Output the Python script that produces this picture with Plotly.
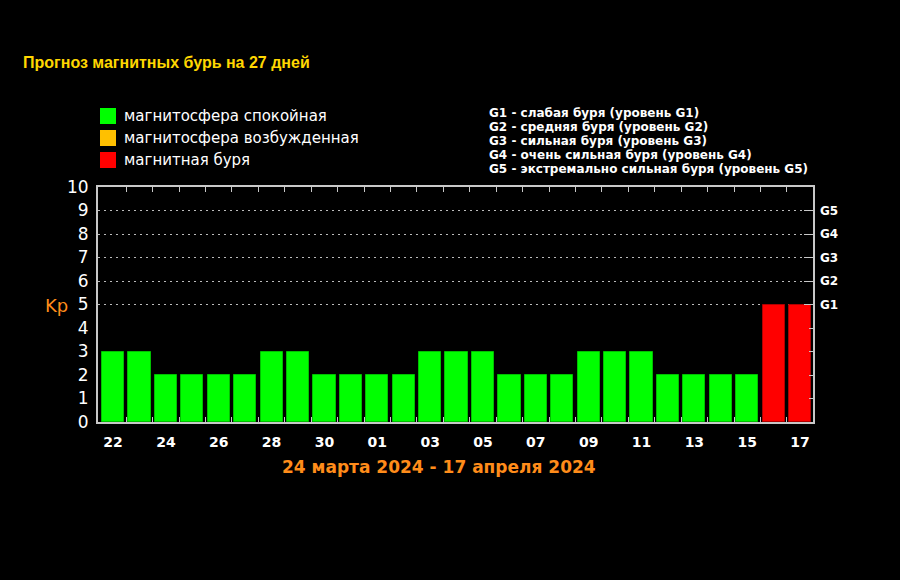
import plotly.graph_objects as go

# ---------------- data ----------------
day_labels = ["22", "23", "24", "25", "26", "27", "28", "29", "30", "31",
              "01", "02", "03", "04", "05", "06", "07", "08", "09", "10",
              "11", "12", "13", "14", "15", "16", "17"]
kp_values = [3, 3, 2, 2, 2, 2, 3, 3, 2, 2, 2, 2, 3, 3, 3, 2, 2, 2, 3, 3, 3, 2, 2, 2, 2, 5, 5]
storm_levels = ["G1", "G2", "G3", "G4", "G5"]
storm_kp = [5, 6, 7, 8, 9]
kp_ticks = list(range(0, 11))
legend_labels = ["магнитосфера спокойная", "магнитосфера возбужденная", "магнитная буря"]
storm_notes = [
    "G1 - слабая буря (уровень G1)",
    "G2 - средняя буря (уровень G2)",
    "G3 - сильная буря (уровень G3)",
    "G4 - очень сильная буря (уровень G4)",
    "G5 - экстремально сильная буря (уровень G5)",
]
title_text = "Прогноз магнитных бурь на 27 дней"
period_text = "24 марта 2024 - 17 апреля 2024"

# ---------------- styles ----------------
GREEN, ORANGE, RED = "#00FF00", "#FFC000", "#FF0000"
FRAME = "#C8C8C8"
W, H = 900, 580
L, R, T, B = 98, 813, 187, 422  # plot area in pixels


def px(x):
    return (x - L) / (R - L)


def py(y):
    return (B - y) / (B - T)


def colour(v):
    if v >= 5:
        return RED
    if v >= 4:
        return ORANGE
    return GREEN


idx = list(range(len(kp_values)))
colors = [colour(v) for v in kp_values]
line_colors = ["#B00000" if c == RED else "#00C000" for c in colors]

fig = go.Figure()
fig.add_trace(go.Bar(
    x=idx, y=kp_values, width=0.84,
    marker=dict(color=colors, line=dict(color=line_colors, width=1)),
    hoverinfo="skip", showlegend=False,
))
# invisible trace for right axis
fig.add_trace(go.Scatter(x=[0], y=[0], yaxis="y2", mode="markers",
                         marker=dict(opacity=0), hoverinfo="skip", showlegend=False))

fig.update_layout(
    width=W, height=H,
    paper_bgcolor="#000000", plot_bgcolor="#000000",
    margin=dict(l=L, r=W - R, t=T, b=H - B, pad=0),
    bargap=0,
    xaxis=dict(
        range=[-0.57, 26.49],
        tickmode="array",
        tickvals=idx[::2],
        ticktext=day_labels[::2],
        ticks="",
        ticklabelstandoff=6,
        tickfont=dict(family="DejaVu Sans", size=14, color="#FFFFFF", weight="bold"),
        showgrid=False, zeroline=False,
        showline=True, linecolor=FRAME, linewidth=2, mirror="allticks",
        minor=dict(tickmode="array", tickvals=[i + 0.5 for i in idx[:-1]],
                   ticks="inside", ticklen=5, tickcolor=FRAME, tickwidth=1),
    ),
    yaxis=dict(
        range=[0, 10],
        tickmode="array", tickvals=kp_ticks, ticktext=[str(v) for v in kp_ticks],
        ticks="", showgrid=False, zeroline=False,
        tickfont=dict(family="DejaVu Sans", size=17, color="#FFFFFF"),
        showline=True, linecolor=FRAME, linewidth=2, mirror=True,
        ticklabelstandoff=4,
    ),
    yaxis2=dict(
        overlaying="y", side="right", range=[0, 10],
        tickmode="array", tickvals=storm_kp, ticktext=storm_levels,
        ticks="inside", ticklen=9, tickcolor=FRAME, tickwidth=1,
        showgrid=True, gridcolor="#BBBBBB", gridwidth=1, griddash="2px,4px",
        zeroline=False, showline=False,
        tickfont=dict(family="DejaVu Sans", size=12, color="#FFFFFF", weight="bold"),
        ticklabelstandoff=6,
        minor=dict(tickmode="array", tickvals=[1, 2, 3, 4],
                   ticks="inside", ticklen=4, tickcolor=FRAME, tickwidth=1),
    ),
)

annotations = []
shapes = []

# title
annotations.append(dict(
    x=px(21), y=py(62), xref="paper", yref="paper", xanchor="left", yanchor="middle",
    text="<b>" + title_text + "</b>", showarrow=False,
    font=dict(family="Liberation Sans", size=16, color="#FFD700"),
))

# legend
for i, (lab, col) in enumerate(zip(legend_labels, [GREEN, ORANGE, RED])):
    yc = 116 + 22 * i
    shapes.append(dict(type="rect", xref="paper", yref="paper",
                       x0=px(100), x1=px(116), y0=py(yc - 8), y1=py(yc + 8),
                       fillcolor=col, line=dict(width=0)))
    annotations.append(dict(
        x=px(122), y=py(yc), xref="paper", yref="paper", xanchor="left", yanchor="middle",
        text=lab, showarrow=False,
        font=dict(family="DejaVu Sans", size=15, color="#FFFFFF"),
    ))

# storm notes
for i, note in enumerate(storm_notes):
    annotations.append(dict(
        x=px(487), y=py(113 + 14 * i), xref="paper", yref="paper",
        xanchor="left", yanchor="middle", text="<b>" + note + "</b>", showarrow=False,
        font=dict(family="DejaVu Sans", size=12, color="#FFFFFF"),
    ))

# Kp label
annotations.append(dict(
    x=px(56), y=py(305), xref="paper", yref="paper", xanchor="center", yanchor="middle",
    text="Kp", showarrow=False,
    font=dict(family="DejaVu Sans", size=18, color="#FF8C1A"),
))

# period
annotations.append(dict(
    x=px(439), y=py(467), xref="paper", yref="paper", xanchor="center", yanchor="middle",
    text="<b>" + period_text + "</b>", showarrow=False,
    font=dict(family="DejaVu Sans", size=17, color="#FF8C1A"),
))

fig.update_layout(annotations=annotations, shapes=shapes)
fig.write_html(
    "out.html",
    config={"displayModeBar": False},
    post_script="document.body.style.margin='0';document.body.style.background='#000';",
)
